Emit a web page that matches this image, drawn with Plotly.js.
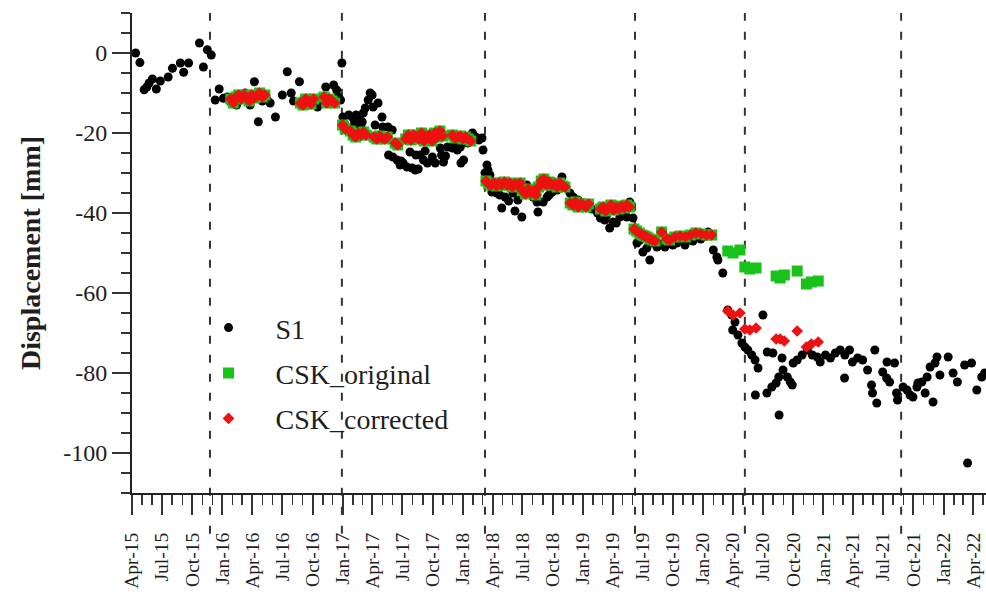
<!DOCTYPE html>
<html>
<head>
<meta charset="utf-8">
<script src="https://cdn.plot.ly/plotly-3.0.1.min.js"></script>
<style>
  html, body { margin: 0; padding: 0; background: #ffffff; }
  #chart { width: 986px; height: 594px; }
</style>
</head>
<body>
<div id="chart"></div>
<script>
// Sentinel-1 displacement time series (mm)
const s1Dates = [
  '2015-04-12','2015-04-25','2015-05-08','2015-05-16','2015-05-23','2015-06-02','2015-06-14','2015-06-26',
  '2015-07-20','2015-08-02','2015-08-26','2015-09-05','2015-09-20','2015-10-23','2015-11-04','2015-11-16',
  '2015-11-28','2015-12-10','2015-12-22','2016-01-04','2016-01-16','2016-01-28','2016-02-13','2016-02-25',
  '2016-03-10','2016-03-25','2016-04-07','2016-04-19','2016-05-01','2016-05-16','2016-05-25','2016-06-10',
  '2016-07-01','2016-07-16','2016-07-28','2016-08-04','2016-08-22','2016-09-04','2016-09-19','2016-09-30',
  '2016-10-16','2016-10-28','2016-11-10','2016-11-22','2016-12-04','2016-12-13','2016-12-19','2016-12-25',
  '2016-12-29','2017-01-01','2017-01-05','2017-01-19','2017-02-01','2017-02-04','2017-02-10','2017-02-19',
  '2017-02-25','2017-03-01','2017-03-04','2017-03-10','2017-03-19','2017-03-25','2017-03-31','2017-04-03',
  '2017-04-09','2017-04-18','2017-04-30','2017-05-02','2017-05-18','2017-05-20','2017-05-31','2017-06-02',
  '2017-06-15','2017-06-24','2017-06-27','2017-07-03','2017-07-15','2017-07-24','2017-07-31','2017-08-09',
  '2017-08-11','2017-08-18','2017-08-24','2017-09-03','2017-09-08','2017-09-15','2017-09-30','2017-10-04',
  '2017-10-09','2017-10-18','2017-10-24','2017-10-28','2017-11-03','2017-11-09','2017-11-15','2017-11-30',
  '2017-12-06','2017-12-15','2017-12-24','2017-12-26','2018-01-03','2018-01-15','2018-01-30','2018-02-09',
  '2018-02-18','2018-02-28','2018-03-03','2018-03-09','2018-03-15','2018-03-18','2018-03-24','2018-03-30',
  '2018-04-14','2018-04-23','2018-04-29','2018-05-09','2018-05-20','2018-06-02','2018-06-08','2018-06-17',
  '2018-06-29','2018-07-05','2018-07-14','2018-07-23','2018-08-02','2018-08-14','2018-08-17','2018-09-02',
  '2018-09-14','2018-09-20','2018-09-29','2018-10-02','2018-10-14','2018-10-17','2018-10-29','2018-11-10',
  '2018-11-22','2018-12-02','2018-12-17','2019-01-02','2019-01-14','2019-01-28','2019-02-14','2019-02-23',
  '2019-03-08','2019-03-14','2019-03-23','2019-04-02','2019-04-12','2019-04-23','2019-05-08','2019-05-14',
  '2019-05-23','2019-06-02','2019-06-14','2019-06-23','2019-07-02','2019-07-14','2019-07-23','2019-08-02',
  '2019-08-14','2019-08-26','2019-09-07','2019-09-19','2019-10-01','2019-10-13','2019-10-25','2019-11-07',
  '2019-11-19','2019-12-01','2019-12-13','2019-12-25','2020-01-07','2020-01-16','2020-02-01','2020-02-12',
  '2020-02-15','2020-03-01','2020-03-16','2020-03-28','2020-03-31','2020-04-07','2020-04-16','2020-04-28',
  '2020-05-07','2020-05-16','2020-05-28','2020-06-07','2020-06-08','2020-06-16','2020-07-01','2020-07-13',
  '2020-07-14','2020-07-28','2020-07-31','2020-08-10','2020-08-18','2020-08-19','2020-08-28','2020-08-31',
  '2020-09-13','2020-09-22','2020-09-28','2020-10-01','2020-10-13','2020-10-28','2020-11-13','2020-11-28',
  '2020-12-13','2020-12-22','2021-01-07','2021-01-22','2021-02-06','2021-02-21','2021-03-06','2021-03-07',
  '2021-03-21','2021-03-30','2021-04-15','2021-04-30','2021-05-15','2021-05-27','2021-05-30','2021-06-06',
  '2021-06-12','2021-06-30','2021-07-12','2021-07-13','2021-07-21','2021-08-05','2021-08-11','2021-08-14',
  '2021-08-31','2021-09-12','2021-09-21','2021-09-30','2021-10-12','2021-10-15','2021-10-27','2021-11-06',
  '2021-11-12','2021-11-21','2021-11-30','2021-12-06','2021-12-12','2021-12-21','2022-01-15','2022-01-30',
  '2022-02-12','2022-03-06','2022-03-15','2022-03-27','2022-04-12','2022-04-27','2022-05-06'
];
const s1Disp = [
  0, -2.4, -9.2, -8.5, -7.5, -6.5, -9, -7,
  -6, -3.8, -2.5, -4.8, -2.5, 2.5, -3.5, 0.8,
  -0.5, -11.75, -9, -11.3, -11, -12.5, -13, -11.5,
  -10, -13, -7.2, -17.2, -12, -11.75, -12.5, -16,
  -10.5, -4.7, -10, -12, -7.2, -11.5, -12.5, -12.8,
  -13.5, -12, -8.5, -12.5, -8, -9.25, -11, -11.75,
  -2.5, -16, -17.5, -15.5, -16.25, -18, -15.5, -16.25,
  -18.5, -17.25, -15, -13.75, -11.75, -10, -10.5, -13.5,
  -18, -12.5, -16, -18.5, -18.5, -25.5, -19.25, -26,
  -26.75, -28, -27, -27.5, -28.5, -24.75, -28.75, -29.25,
  -25.5, -29, -25.5, -26.75, -24.5, -27.5, -26, -21.75,
  -27.5, -21, -23.75, -25.5, -27.25, -25.75, -23.5, -23.75,
  -22.75, -24.25, -23.5, -27.5, -26.75, -22.5, -20, -21,
  -21.75, -21.25, -24.25, -30, -28, -29.25, -30.5, -34.75,
  -35, -35.5, -38.75, -36, -37, -35, -39.5, -36.75,
  -41, -35, -33, -34.75, -36, -37.25, -39.75, -37.25,
  -36, -35.5, -34.75, -33, -34.25, -32.5, -31, -33.5,
  -35, -36, -36.75, -37.5, -38, -39, -40, -41.25,
  -41.75, -40.5, -43.75, -42.25, -42.5, -41, -40, -41,
  -37.25, -41.25, -47.5, -46.75, -49.75, -48.75, -51.75, -47.5,
  -48.5, -47.75, -48.5, -47.5, -48, -47.5, -47, -48,
  -46.5, -47, -46, -46.5, -45.75, -44.75, -49.25, -51,
  -51.75, -55, -64.25, -65.5, -69.25, -67.25, -70.5, -72.5,
  -73.5, -74.25, -75.5, -76.75, -85.5, -78.75, -65.5, -85,
  -74.75, -83.5, -75, -82.5, -81, -90.5, -76.25, -79.25,
  -81, -82.25, -83, -77.5, -76.75, -75.5, -74.25, -75.5,
  -76, -77.25, -75.5, -76.25, -75, -74.25, -81.25, -75.5,
  -74.25, -77.25, -76.25, -76.75, -79.25, -83, -85, -74.25,
  -87.5, -79.75, -81.25, -77.25, -82.25, -77.5, -85, -86.75,
  -83.5, -84.25, -85.5, -86, -83.5, -82.5, -82.25, -85,
  -81, -78.5, -87.25, -77.5, -76, -80.5, -76, -80,
  -82.25, -78, -102.5, -77.5, -84.25, -81, -80
];

// COSMO-SkyMed acquisitions: original and corrected displacement (mm)
const cskDates = [
  '2016-01-26','2016-02-03','2016-02-11','2016-02-19','2016-02-27','2016-03-06','2016-03-14','2016-03-22',
  '2016-03-30','2016-04-07','2016-04-15','2016-04-23','2016-05-01','2016-05-09',
  '2016-08-25','2016-09-02','2016-09-10','2016-09-18','2016-09-26','2016-10-04',
  '2016-11-05','2016-11-13','2016-11-21','2016-11-29','2016-12-07',
  '2016-12-31','2017-01-08','2017-01-24','2017-02-01','2017-02-09','2017-02-17','2017-02-25','2017-03-05',
  '2017-03-13','2017-04-06','2017-04-14','2017-04-22','2017-04-30','2017-05-08','2017-05-16','2017-06-09',
  '2017-06-17','2017-07-11','2017-07-19','2017-07-27','2017-08-04','2017-08-12','2017-08-20','2017-08-28',
  '2017-09-05','2017-09-13','2017-09-21','2017-09-29','2017-10-07','2017-10-15','2017-10-23','2017-10-31',
  '2017-11-30','2017-12-08','2017-12-16','2017-12-24','2018-01-01','2018-01-09','2018-01-17','2018-01-25',
  '2018-03-12','2018-03-20','2018-03-28','2018-04-05','2018-04-13','2018-04-21','2018-04-29','2018-05-07',
  '2018-05-15','2018-05-23','2018-05-31','2018-06-08','2018-06-16','2018-06-24',
  '2018-07-02','2018-07-10','2018-07-18','2018-07-26','2018-08-03','2018-08-11',
  '2018-08-19','2018-08-27','2018-09-04','2018-09-12','2018-09-20','2018-09-28','2018-10-06','2018-10-14',
  '2018-10-22','2018-10-30','2018-11-07',
  '2018-11-23','2018-12-01','2018-12-09','2018-12-17','2018-12-25','2019-01-02','2019-01-10','2019-01-18',
  '2019-02-23','2019-03-03','2019-03-11','2019-03-19','2019-03-27','2019-04-04','2019-04-12','2019-04-20',
  '2019-04-28','2019-05-06','2019-05-14','2019-05-22',
  '2019-06-05','2019-06-13','2019-06-21','2019-06-29','2019-07-07','2019-07-15','2019-07-23','2019-07-31',
  '2019-08-08','2019-08-28','2019-09-13','2019-09-21','2019-10-07','2019-10-23','2019-11-08','2019-11-24',
  '2019-12-10','2019-12-26','2020-01-11','2020-01-27',
  '2020-03-16','2020-04-01','2020-04-22','2020-05-07','2020-05-22','2020-06-10','2020-08-10','2020-08-22',
  '2020-09-04','2020-10-13','2020-11-10','2020-11-25','2020-12-16'
];
const cskOriginal = [
  -11.5, -12.5, -11, -10.5, -11.5, -10.5, -11, -12,
  -10.5, -11.25, -10.75, -10, -11, -10.5,
  -12.5, -13, -11.5, -12, -12.75, -11.5,
  -11, -12.5, -11.5, -12, -12.5,
  -18, -19, -19.5, -20.5, -21, -20, -20.5, -19.75,
  -20.5, -21, -21.5, -20.75, -21.25, -21.5, -21, -22.5,
  -23, -21.5, -20.5, -21.75, -20.5, -21, -21.5, -20,
  -22, -21, -20.5, -22, -20, -21, -19.5, -20.75,
  -20.5, -21.25, -21, -20.75, -21.5, -21, -21.5, -22,
  -32, -32.75, -33, -32.5, -33.25, -32.5, -33, -32.25,
  -33, -32.5, -33.5, -32.75, -33, -32.5,
  -34.5, -35.25, -34, -35, -34.5, -35.5,
  -33.5, -32, -31.5, -33, -32.25, -33, -32.75, -33.5,
  -32.5, -33.25, -33.5,
  -37.5, -38, -37.25, -38.5, -37.75, -38, -38.5, -37.75,
  -39, -38.5, -39.5, -38.75, -38, -39.25, -38.5, -39,
  -38.25, -38.75, -38, -38.5,
  -44, -44.5, -45, -45.5, -45.75, -46, -46.5, -46.75,
  -47, -44.75, -46.5, -46.75, -46, -45.75, -46, -45.5,
  -45, -45.25, -45.5, -45.5,
  -49.5, -50, -49.25, -53.5, -54, -53.75, -55.75, -56.25,
  -55.5, -54.5, -57.75, -57.25, -57
];
const cskCorrected = [
  -11.5, -12.5, -11, -10.5, -11.5, -10.5, -11, -12,
  -10.5, -11.25, -10.75, -10, -11, -10.5,
  -12.5, -13, -11.5, -12, -12.75, -11.5,
  -11, -12.5, -11.5, -12, -12.5,
  -18, -19, -19.5, -20.5, -21, -20, -20.5, -19.75,
  -20.5, -21, -21.5, -20.75, -21.25, -21.5, -21, -22.5,
  -23, -21.5, -20.5, -21.75, -20.5, -21, -21.5, -20,
  -22, -21, -20.5, -22, -20, -21, -19.5, -20.75,
  -20.5, -21.25, -21, -20.75, -21.5, -21, -21.5, -22,
  -32, -32.75, -33, -32.5, -33.25, -32.5, -33, -32.25,
  -33, -32.5, -33.5, -32.75, -33, -32.5,
  -34.5, -35.25, -34, -35, -34.5, -35.5,
  -33.5, -32, -31.5, -33, -32.25, -33, -32.75, -33.5,
  -32.5, -33.25, -33.5,
  -37.5, -38, -37.25, -38.5, -37.75, -38, -38.5, -37.75,
  -39, -38.5, -39.5, -38.75, -38, -39.25, -38.5, -39,
  -38.25, -38.75, -38, -38.5,
  -44, -44.5, -45, -45.5, -45.75, -46, -46.5, -46.75,
  -47, -44.75, -46.5, -46.75, -46, -45.75, -46, -45.5,
  -45, -45.25, -45.5, -45.5,
  -64.5, -65.5, -65, -69, -69.25, -68.75, -71.5, -71.5,
  -72, -69.5, -73.5, -72.75, -72.25
];

// Dates marked with dashed vertical lines
const eventDates = ['2015-11-24', '2016-12-29', '2018-03-09', '2019-06-08', '2020-05-07', '2021-08-25'];

// Displacement axis ticks, written with a plain hyphen
const yTickVals = [-100, -80, -60, -40, -20, 0];
const yTickText = ['-100', '-80', '-60', '-40', '-20', '0'];

const FONT = 'Liberation Serif, Times New Roman, serif';
const INK = '#1e1e1e';

const traces = [
  {
    type: 'scatter', mode: 'markers', name: 'S1', legendgroup: 'a',
    x: s1Dates, y: s1Disp,
    marker: { color: '#000000', size: 9, symbol: 'circle' }
  },
  {
    type: 'scatter', mode: 'markers', name: 'CSK_original', legendgroup: 'b',
    x: cskDates, y: cskOriginal,
    marker: { color: '#19c219', size: 11, symbol: 'square' }
  },
  {
    type: 'scatter', mode: 'markers', name: 'CSK_corrected', legendgroup: 'c',
    x: cskDates, y: cskCorrected,
    marker: { color: '#ee1111', size: 9, symbol: 'diamond' }
  }
];

const shapes = eventDates.map(d => ({
  type: 'line', xref: 'x', yref: 'paper',
  x0: d, x1: d, y0: -0.085, y1: 1,
  line: { color: '#333333', width: 2, dash: '8px,11px' },
  layer: 'below'
}));

const layout = {
  width: 986, height: 594,
  margin: { l: 132, r: 0, t: 13, b: 101 },
  paper_bgcolor: '#ffffff', plot_bgcolor: '#ffffff',
  font: { family: FONT, color: INK },
  showlegend: true,
  legend: {
    x: 0.058, y: 0.396, xanchor: 'left', yanchor: 'top',
    bgcolor: 'rgba(0,0,0,0)', borderwidth: 0,
    font: { family: FONT, size: 28, color: INK },
    traceorder: 'grouped', tracegroupgap: 6, itemwidth: 84
  },
  xaxis: {
    type: 'date',
    range: ['2015-04-01', '2022-05-10'],
    showgrid: false, zeroline: false,
    showline: true, linecolor: '#222222', linewidth: 2,
    ticks: 'outside', ticklen: 20, tickwidth: 2, tickcolor: '#333333',
    tick0: '2015-04-01', dtick: 'M3', tickformat: '%b-%y',
    tickangle: -90, ticklabelstandoff: 10,
    tickfont: { family: FONT, size: 19.5, color: INK },
    minor: { ticks: 'outside', dtick: 'M1', tick0: '2015-04-01', ticklen: 10, tickwidth: 1.5, tickcolor: '#333333', showgrid: false }
  },
  yaxis: {
    range: [-110, 10],
    showgrid: false, zeroline: false,
    showline: true, linecolor: '#222222', linewidth: 2,
    ticks: 'outside', ticklen: 18, tickwidth: 2, tickcolor: '#333333',
    tickmode: 'array', tickvals: yTickVals, ticktext: yTickText,
    tickfont: { family: FONT, size: 24, color: INK },
    minor: { ticks: 'outside', dtick: 5, tick0: 0, ticklen: 9, tickwidth: 1.5, tickcolor: '#333333', showgrid: false },
    title: { text: 'Displacement [mm]', font: { family: FONT, size: 28, color: INK, weight: 'bold' }, standoff: 14 }
  },
  shapes: shapes
};

Plotly.newPlot('chart', traces, layout, { displayModeBar: false, staticPlot: true });
</script>
</body>
</html>
